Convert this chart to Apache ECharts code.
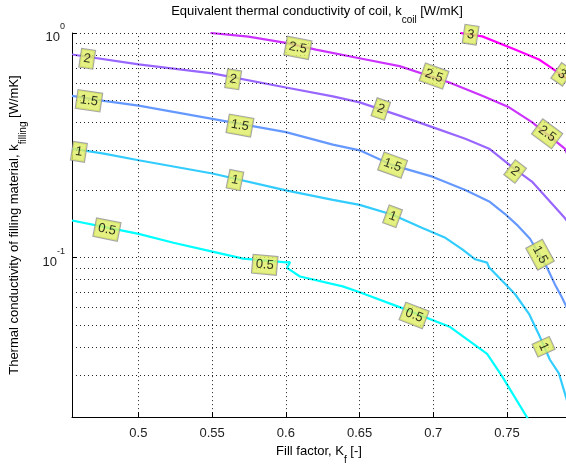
<!DOCTYPE html>
<html><head><meta charset="utf-8">
<script src="https://cdn.jsdelivr.net/npm/echarts@6/dist/echarts.min.js"></script>
<style>html,body{margin:0;padding:0;background:#fff}#c{width:566px;height:470px}</style>
</head><body><div id="c"></div>
<script>
// ---- data ----
const levels = ['0.5', '1', '1.5', '2', '2.5', '3'];
const xTicks = [0.5, 0.55, 0.6, 0.65, 0.7, 0.75];
const yMajor = [0.1, 1];
const yMinor = [0.03, 0.04, 0.05, 0.06, 0.07, 0.08, 0.09, 0.2, 0.3, 0.4, 0.5, 0.6, 0.7, 0.8, 0.9];

const c05 = [[0.455,0.1463],[0.4766,0.1370],[0.5002,0.1276],[0.5238,0.1165],[0.5502,0.1063],[0.5711,0.0990],[0.5947,0.0960],[0.6001,0.0952],[0.6029,0.0955],[0.6008,0.0900],[0.6096,0.0824],[0.6386,0.0745],[0.6501,0.0701],[0.6771,0.0602],[0.7115,0.0491],[0.7365,0.0373],[0.7467,0.0296],[0.7645,0.0190]];
const c10 = [[0.455,0.3056],[0.4766,0.2905],[0.5002,0.2714],[0.5502,0.2368],[0.6001,0.1993],[0.6319,0.1808],[0.6501,0.1718],[0.6724,0.1552],[0.6926,0.1356],[0.7082,0.1225],[0.7197,0.1088],[0.7284,0.0983],[0.7365,0.0950],[0.7379,0.0903],[0.7467,0.0789],[0.7555,0.0687],[0.7649,0.0562],[0.7723,0.0444],[0.7791,0.0351],[0.7852,0.0305],[0.7912,0.0225]];
const c15 = [[0.455,0.5253],[0.4766,0.4991],[0.5002,0.4746],[0.5502,0.4146],[0.6001,0.3622],[0.6319,0.3184],[0.6501,0.3003],[0.6724,0.2580],[0.6994,0.2293],[0.7217,0.2001],[0.7379,0.1779],[0.7487,0.1563],[0.7575,0.1384],[0.7656,0.1213],[0.7771,0.0903],[0.7825,0.0760],[0.7872,0.0666],[0.7912,0.0589]];
const c20 = [[0.455,0.8024],[0.5002,0.7247],[0.5502,0.6613],[0.6001,0.5721],[0.6319,0.5220],[0.6501,0.4912],[0.6771,0.4286],[0.6994,0.3810],[0.7217,0.3383],[0.7379,0.3056],[0.7555,0.2470],[0.7669,0.2180],[0.7892,0.1501],[0.7912,0.1442]];
const c25 = [[0.5489,1.0],[0.5746,0.9632],[0.6001,0.9034],[0.6204,0.8439],[0.6542,0.7624],[0.6771,0.7120],[0.7109,0.6017],[0.7332,0.5253],[0.7514,0.4667],[0.7669,0.4009],[0.7892,0.3056],[0.7912,0.2855]];
const c30 = [[0.7183,1.0],[0.7332,0.9660],[0.7554,0.8439],[0.7717,0.7624],[0.7784,0.7120],[0.7912,0.6223]];

const lab05 = [[0.4787,0.1333],[0.5857,0.0929],[0.6870,0.0553]];
const lab10 = [[0.4597,0.2958],[0.5655,0.2215],[0.6724,0.1527],[0.7748,0.0401]];
const lab15 = [[0.4665,0.4991],[0.5689,0.3873],[0.6724,0.2580],[0.7724,0.1031]];
const lab20 = [[0.4653,0.7679],[0.5643,0.6223],[0.6644,0.4587],[0.7555,0.2418]];
const lab25 = [[0.6082,0.8586],[0.7005,0.6433],[0.7772,0.3559]];
const lab30 = [[0.7253,0.983],[0.7873,0.6546]];

const contours = [c05, c10, c15, c20, c25, c30];
const labelPos = [lab05, lab10, lab15, lab20, lab25, lab30];

// ---- style ----
const levelColors = ['#00ffff', '#33ccff', '#6699ff', '#9966ff', '#cc33ff', '#ff00ff'];
const FONT = 'Liberation Sans, Arial, Helvetica, sans-serif';

const chart = echarts.init(document.getElementById('c'), null, {renderer: 'canvas'});

function labelItems(angleFn) {
  const items = [];
  labelPos.forEach((arr, i) => arr.forEach(p => {
    items.push({value: p, label: {formatter: levels[i], rotate: angleFn ? angleFn(p, contours[i]) : 0}});
  }));
  return items;
}

const series = [];
series.push({
  type: 'line', data: [], silent: true, z: 1,
  markLine: {
    silent: true, symbol: ['none', 'none'], animation: false,
    label: {show: false},
    lineStyle: {color: '#000', width: 1, type: [1, 3], opacity: 0.85},
    data: xTicks.map(v => ({xAxis: v})).concat(yMinor.concat(yMajor).map(v => ({yAxis: v})))
  }
});
contours.forEach((pts, i) => {
  series.push({
    type: 'line', name: levels[i], data: pts, showSymbol: false, symbol: 'none',
    lineStyle: {color: levelColors[i], width: 2.2}, z: 3, silent: true, clip: true
  });
});
series.push({
  id: 'labels', type: 'scatter', z: 6, symbolSize: 1, silent: true, clip: false,
  itemStyle: {color: 'rgba(0,0,0,0)'},
  label: {
    show: true, position: 'inside', color: '#000', fontSize: 13, fontFamily: FONT,
    backgroundColor: '#dfef63', borderColor: '#8f8f8f', borderWidth: 1, padding: [3, 3, 2, 3]
  },
  data: labelItems(null)
});

const option = {
  animation: false,
  backgroundColor: '#fff',
  title: {
    text: '{a|Equivalent thermal conductivity of coil, k}{s|coil}{a| [W/mK]}',
    left: 317, top: 5, padding: 0, textAlign: 'center',
    textStyle: {
      fontFamily: FONT, fontWeight: 'normal', color: '#000',
      rich: {
        a: {fontSize: 13, fontFamily: FONT, color: '#000', lineHeight: 20, verticalAlign: 'top'},
        s: {fontSize: 10, fontFamily: FONT, color: '#000', lineHeight: 20, verticalAlign: 'bottom'}
      }
    }
  },
  grid: {left: 68, top: 33, right: 0, bottom: 49, containLabel: false},
  xAxis: {
    type: 'value', min: 0.455, max: 0.79,
    name: '{a|Fill factor, K}{s|f}{a| [-]}', nameLocation: 'middle', nameGap: 24,
    nameTextStyle: {
      rich: {
        a: {fontSize: 13, fontFamily: FONT, color: '#000', lineHeight: 20, verticalAlign: 'top'},
        s: {fontSize: 10, fontFamily: FONT, color: '#000', lineHeight: 20, verticalAlign: 'bottom'}
      }
    },
    axisLine: {show: true, onZero: false, lineStyle: {color: '#000', width: 1}},
    axisTick: {show: true, inside: true, length: 5, customValues: xTicks, lineStyle: {color: '#000'}},
    axisLabel: {customValues: xTicks, fontSize: 13, fontFamily: FONT, color: '#222', margin: 10,
      formatter: v => String(+v.toFixed(2))},
    splitLine: {show: false}
  },
  yAxis: {
    type: 'log', logBase: 10, min: 0.0195, max: 1,
    name: '{a|Thermal conductivity of filling material, k}{s|filling}{a| [W/mK]}',
    nameLocation: 'middle', nameGap: 44, nameRotate: 90,
    nameTextStyle: {
      rich: {
        a: {fontSize: 13, fontFamily: FONT, color: '#000', lineHeight: 20, verticalAlign: 'top'},
        s: {fontSize: 10, fontFamily: FONT, color: '#000', lineHeight: 20, verticalAlign: 'bottom'}
      }
    },
    axisLine: {show: true, onZero: false, lineStyle: {color: '#000', width: 1}},
    axisTick: {show: true, inside: true, length: 5, lineStyle: {color: '#000'}},
    axisLabel: {
      margin: 7, fontFamily: FONT, color: '#222',
      formatter: v => {
        if (Math.abs(v - 1) < 1e-6) return '{b|10}{s|0}';
        if (Math.abs(v - 0.1) < 1e-6) return '{b|10}{s|-1}';
        return '';
      },
      rich: {
        b: {fontSize: 13, fontFamily: FONT, color: '#222', lineHeight: 22, verticalAlign: 'bottom'},
        s: {fontSize: 9, fontFamily: FONT, color: '#222', lineHeight: 22, verticalAlign: 'top'}
      }
    },
    splitLine: {show: false}
  },
  series: series
};

chart.setOption(option);

function angleAt(p, pts) {
  const P = chart.convertToPixel({gridIndex: 0}, p);
  const px = pts.map(q => chart.convertToPixel({gridIndex: 0}, q));
  let bi = 0, bd = Infinity;
  px.forEach((q, k) => { const d = (q[0] - P[0]) ** 2 + (q[1] - P[1]) ** 2; if (d < bd) { bd = d; bi = k; } });
  const a = px[Math.max(0, bi - 1)], b = px[Math.min(px.length - 1, bi + 1)];
  let ang = Math.atan2(b[1] - a[1], b[0] - a[0]) * 180 / Math.PI;
  if (ang > 90) ang -= 180;
  if (ang < -90) ang += 180;
  return -ang;
}
chart.setOption({series: [{id: 'labels', data: labelItems(angleAt)}]});
</script></body></html>
